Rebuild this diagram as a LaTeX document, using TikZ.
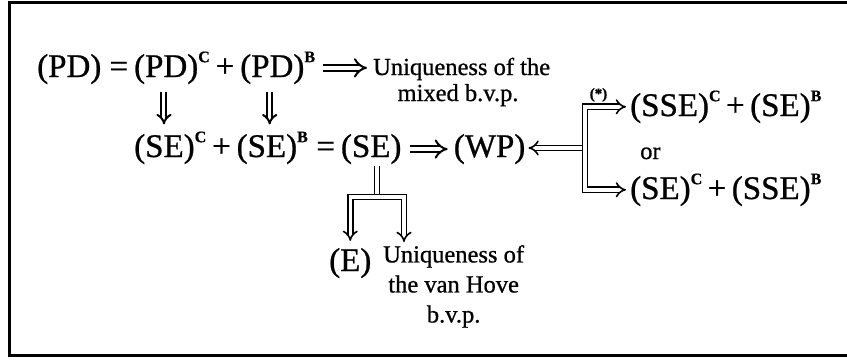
\documentclass[tikz,border=0pt]{standalone}
\usepackage{fontspec}
\setmainfont{Liberation Serif}[FakeBold=0.8]
\usetikzlibrary{arrows.meta,positioning}
\newcommand{\supC}{\raisebox{0.45em}{\fontsize{16}{16}\selectfont\bfseries C}}
\newcommand{\supB}{\raisebox{0.45em}{\fontsize{16}{16}\selectfont\bfseries B}}
\tikzset{
  term/.style={inner sep=0pt, anchor=base west, font=\fontsize{33}{35}\selectfont},
  txt/.style={inner sep=0pt, font=\fontsize{24.5}{30}\selectfont, align=center},
  dbl/.style={double, double distance=3.5pt, line width=1.6pt, -{Implies}},
  implies/.style={dbl, double distance=4.5pt, line width=2pt},
}

\begin{document}
\begin{tikzpicture}[x=1pt,y=-1pt]
\useasboundingbox (0,0) rectangle (847,360);
\draw[line width=3pt] (870,2) -- (9,2) -- (9,355) -- (870,355);

% first row
\node[term] (pd) at (37,77) {(PD) =\,};
\node[term] (pdc) at (pd.base east) {(PD)\supC};
\node[term] (plus1) at (pdc.base east) {\,+\,};
\node[term] (pdb) at (plus1.base east) {(PD)\supB};
\node[txt, anchor=base west] (uniq) at (373,75) {Uniqueness of the};
\node[txt, anchor=base] (mixed) at (458,101) {mixed b.v.p.};
\draw[implies, shorten <=8pt, shorten >=6pt] (pdb.east) -- (pdb.east -| uniq.west);

% second row
\node[term] (sec) at (134,157) {(SE)\supC};
\node[term] (plus2) at (sec.base east) {\,+\,};
\node[term] (seb) at (plus2.base east) {(SE)\supB};
\node[term] (eq2) at (seb.base east) {\ =\,};
\node[term] (se) at (eq2.base east) {(SE)};
\node[term] (wp) at ([xshift=52pt]se.base east) {(WP)};
\draw[implies, shorten <=8pt, shorten >=6pt] (se.east) -- (wp.west);

\draw[implies, double distance=3pt, shorten <=8pt, shorten >=7pt] ([xshift=-8pt]pdc.south) -- ([xshift=-8pt]pdc.south |- sec.north);
\draw[implies, double distance=3pt, shorten <=8pt, shorten >=7pt] ([xshift=-8pt]pdb.south) -- ([xshift=-8pt]pdb.south |- seb.north);

% right branch
\node[term] (sseu) at (630,116) {(SSE)\supC\,+\,(SE)\supB};
\node[txt, anchor=base west] (orr) at (640,159) {or};
\node[term] (ssel) at (630,199) {(SE)\supC\,+\,(SSE)\supB};
\coordinate (fork) at (585,148);
\draw[dbl, shorten >=3pt] (fork) -- (fork -| wp.east);
\draw[dbl, {Implies}-{Implies}, shorten <=4pt, shorten >=4pt] (sseu.west) -| node[pos=0.35, above=1pt, font=\fontsize{15}{15}\selectfont\bfseries] (star) {(*)} (fork) |- (ssel.west);

% lower branch
\node[term] (e) at (329,271) {(E)};
\node[txt, anchor=north west] (uniq2) at (383,245) {Uniqueness of\\the van Hove\\b.v.p.};
\coordinate (bar) at (377,197);
\coordinate (barR) at (404,197);
\draw[dbl, -, shorten <=2pt] (bar |- se.south) -- (bar);
\draw[dbl, {Implies}-{Implies}, shorten <=7pt, shorten >=3pt] (e.north) |- (bar) -| (barR |- uniq2.north);
\end{tikzpicture}
\end{document}
